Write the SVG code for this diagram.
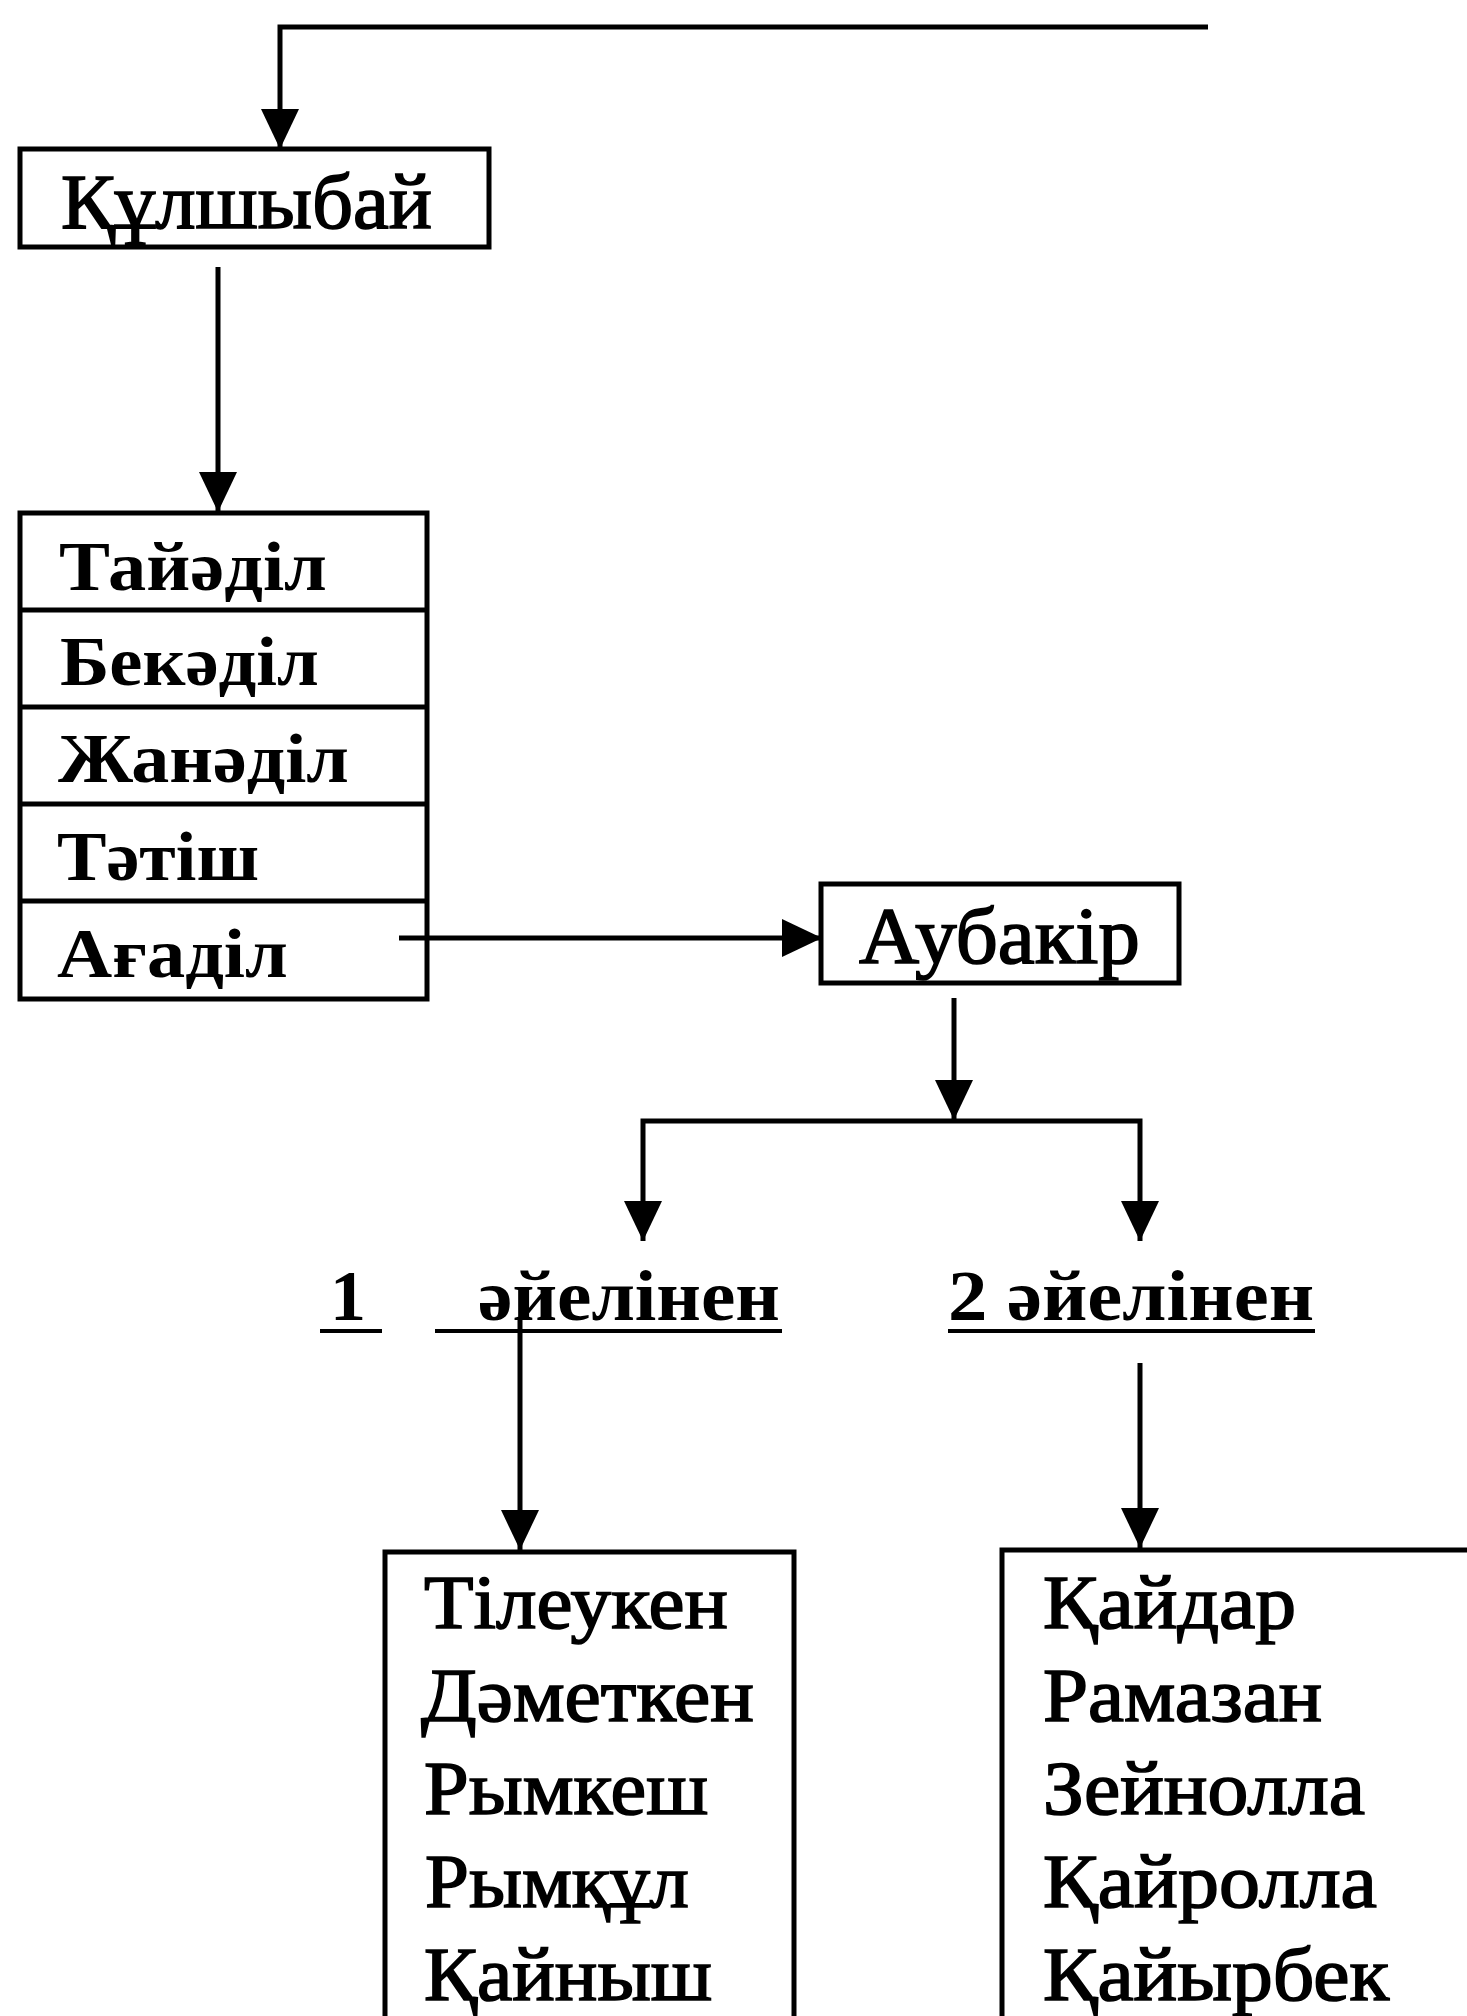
<svg xmlns="http://www.w3.org/2000/svg" width="1467" height="2016" viewBox="0 0 1467 2016">
<style>
.box{fill:none;stroke:#000;stroke-width:5}
.con{fill:none;stroke:#000;stroke-width:5}
.t{font-family:"Liberation Serif","Times New Roman",serif;fill:#000}
.r{stroke:#000;stroke-width:1.6}
.b{font-weight:bold}
.ul{stroke:#000;stroke-width:4}
</style>
<defs>
<marker id="ah" markerUnits="userSpaceOnUse" markerWidth="40" markerHeight="40" viewBox="0 0 40 40" refX="40" refY="20" orient="auto">
<path d="M0,1 L40,20 L0,39 Z" fill="#000"/>
</marker>
</defs>
<rect width="1467" height="2016" fill="#fff"/>

<g id="connectors">
<path class="con" d="M1208,27 H280 V149" marker-end="url(#ah)"/>
<path class="con" d="M218,267 V512" marker-end="url(#ah)"/>
<path class="con" d="M399,938 H822" marker-end="url(#ah)"/>
<path class="con" d="M954,998 V1120" marker-end="url(#ah)"/>
<path class="con" d="M954,1121 H643 V1241" marker-end="url(#ah)"/>
<path class="con" d="M954,1121 H1140 V1241" marker-end="url(#ah)"/>
<path class="con" d="M520,1317 V1550" marker-end="url(#ah)"/>
<path class="con" d="M1140,1363 V1548" marker-end="url(#ah)"/>
</g>

<g id="node-kulshybai">
<rect class="box" x="20" y="149" width="469" height="98"/>
<text class="t r" x="61" y="228" font-size="78" textLength="371" lengthAdjust="spacingAndGlyphs">Құлшыбай</text>
</g>

<g id="node-list1">
<rect class="box" x="20" y="513" width="407" height="486"/>
<line class="box" x1="20" y1="610" x2="427" y2="610"/>
<line class="box" x1="20" y1="707" x2="427" y2="707"/>
<line class="box" x1="20" y1="804" x2="427" y2="804"/>
<line class="box" x1="20" y1="901" x2="427" y2="901"/>
<text class="t b" x="59" y="590" font-size="70" textLength="268" lengthAdjust="spacingAndGlyphs">Тайәділ</text>
<text class="t b" x="60" y="685" font-size="70" textLength="259" lengthAdjust="spacingAndGlyphs">Бекәділ</text>
<text class="t b" x="58" y="782" font-size="70" textLength="291" lengthAdjust="spacingAndGlyphs">Жанәділ</text>
<text class="t b" x="57" y="880" font-size="70" textLength="202" lengthAdjust="spacingAndGlyphs">Тәтіш</text>
<text class="t b" x="57" y="977" font-size="70" textLength="231" lengthAdjust="spacingAndGlyphs">Ағаділ</text>
</g>

<g id="node-aubakir">
<rect class="box" x="821" y="884" width="358" height="99"/>
<text class="t r" x="859" y="963" font-size="80" textLength="281" lengthAdjust="spacingAndGlyphs">Аубакір</text>
</g>

<g id="node-wife1">
<text class="t b" x="330" y="1320" font-size="72">1</text>
<line class="ul" x1="320" y1="1331" x2="382" y2="1331"/>
<text class="t b" x="478" y="1320" font-size="72" textLength="302" lengthAdjust="spacingAndGlyphs">әйелінен</text>
<line class="ul" x1="435" y1="1331" x2="782" y2="1331"/>
</g>

<g id="node-wife2">
<text class="t b" x="948" y="1320" font-size="72" textLength="366" lengthAdjust="spacingAndGlyphs">2 әйелінен</text>
<line class="ul" x1="948" y1="1331" x2="1315" y2="1331"/>
</g>

<g id="node-list2">
<path class="box" d="M385,2020 V1552 H794 V2020"/>
<text class="t r" x="424" y="1628" font-size="76" textLength="304" lengthAdjust="spacingAndGlyphs">Тілеукен</text>
<text class="t r" x="421" y="1721" font-size="76" textLength="333" lengthAdjust="spacingAndGlyphs">Дәметкен</text>
<text class="t r" x="424" y="1814" font-size="76" textLength="284" lengthAdjust="spacingAndGlyphs">Рымкеш</text>
<text class="t r" x="425" y="1907" font-size="76" textLength="264" lengthAdjust="spacingAndGlyphs">Рымқұл</text>
<text class="t r" x="424" y="2000" font-size="76" textLength="288" lengthAdjust="spacingAndGlyphs">Қайныш</text>
</g>

<g id="node-list3">
<path class="box" d="M1002,2020 V1550 H1470"/>
<text class="t r" x="1043" y="1628" font-size="76" textLength="253" lengthAdjust="spacingAndGlyphs">Қайдар</text>
<text class="t r" x="1043" y="1721" font-size="76" textLength="279" lengthAdjust="spacingAndGlyphs">Рамазан</text>
<text class="t r" x="1043" y="1814" font-size="76" textLength="322" lengthAdjust="spacingAndGlyphs">Зейнолла</text>
<text class="t r" x="1043" y="1907" font-size="76" textLength="334" lengthAdjust="spacingAndGlyphs">Қайролла</text>
<text class="t r" x="1043" y="2000" font-size="76" textLength="346" lengthAdjust="spacingAndGlyphs">Қайырбек</text>
</g>
</svg>
